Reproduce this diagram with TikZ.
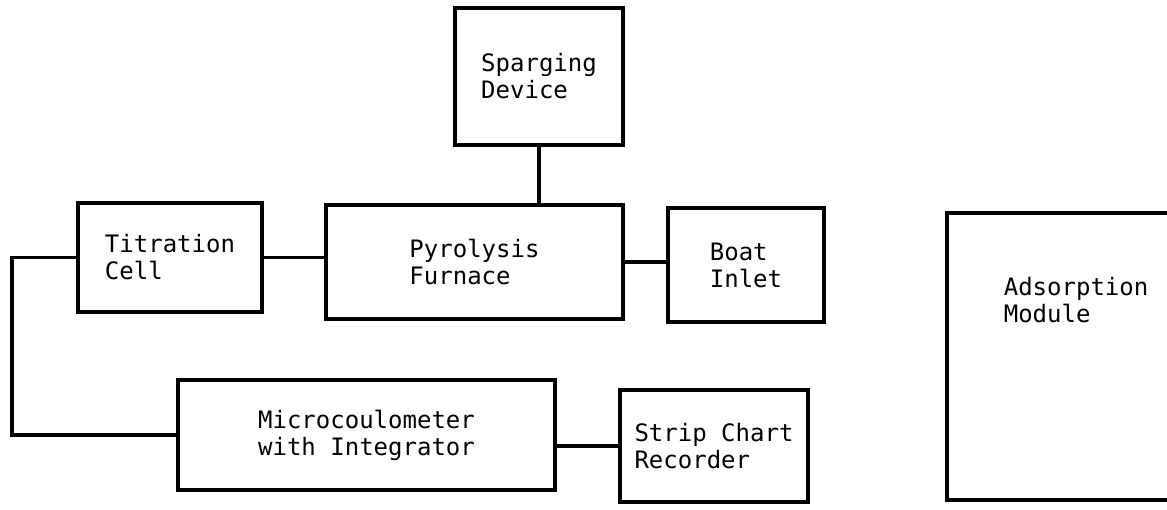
\documentclass[tikz,border=0pt]{standalone}
\usepackage{fontspec}
\setmonofont{DejaVu Sans Mono}
\usetikzlibrary{positioning}

\begin{document}
\begin{tikzpicture}[x=1pt,y=-1pt,
			unit/.style={
				draw,
				line width=3.6pt,
				align=left,
				inner sep=0pt,
				font=\ttfamily\fontsize{24}{27}\selectfont
			},
			link/.style={line width=3.6pt}
			]
			\useasboundingbox (0,0) rectangle (1167,510);
			\node[unit, minimum width=168pt, minimum height=137pt] (spar) at (539,76.5) {Sparging\\Device};
			\node[unit, minimum width=184pt, minimum height=109pt] (titr) at (170,257.5) {Titration\\Cell};
			\node[unit, minimum width=297pt, minimum height=114pt] (pyro) at (474.5,262) {Pyrolysis\\Furnace};
			\node[unit, minimum width=156pt, minimum height=114pt] (boat) at (746,265) {Boat\\Inlet};
			\node[unit, minimum width=377pt, minimum height=110pt] (micro) at (366.5,435) {Microcoulometer\\with Integrator};
			\node[unit, minimum width=188pt, minimum height=112pt] (strip) at (714,446) {Strip Chart\\Recorder};
			% adsorption module runs off the page
			\draw[link] (1175,213) -- (947,213) -- (947,500) -- (1175,500);
			\node[unit, draw=none, anchor=base west] (adso) at (1002,323) {Adsorption\\Module};
			% connectors
			\coordinate (bend) at (12,257.5);
			\draw[link] (titr.west) -- (bend) |- (micro.west);
			\draw[link] (titr.east) -- (titr.east -| pyro.west);
			\draw[link] (pyro.east) -- (pyro.east -| boat.west);
			\draw[link] (spar.south) -- (spar.south |- pyro.north);
			\draw[link] (strip.west -| micro.east) -- (strip.west);
		\end{tikzpicture}
\end{document}
